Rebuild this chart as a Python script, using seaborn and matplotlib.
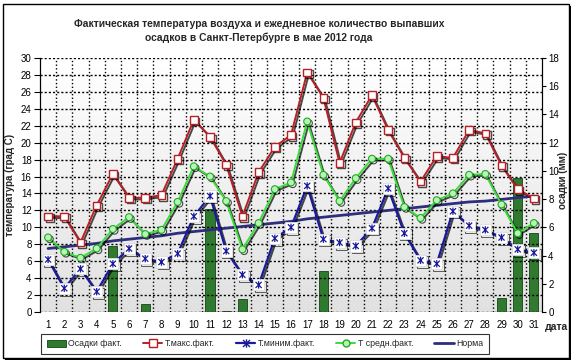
import numpy as np
import pandas as pd
import matplotlib
matplotlib.use("Agg")
import matplotlib.pyplot as plt
import matplotlib.patheffects as pe
from matplotlib import font_manager
from matplotlib.path import Path
from matplotlib.lines import Line2D
from matplotlib.patches import Patch, Rectangle
import seaborn as sns

# --- dades (llegides del gràfic) ---
dies = list(range(1, 32))
t_max = [11.3, 11.3, 8.2, 12.6, 16.3, 13.5, 13.5, 13.8, 18.1, 22.7, 20.7, 17.4, 11.3, 16.5, 19.5, 20.9,
         28.3, 25.3, 17.6, 22.4, 25.6, 21.5, 18.2, 15.4, 18.4, 18.2, 21.5, 21.1, 17.3, 14.5, 13.4]
t_min = [6.2, 2.8, 5.1, 2.4, 5.7, 7.5, 6.3, 5.9, 6.9, 11.3, 13.7, 7.2, 4.4, 3.2, 8.7, 10.0,
         14.9, 8.6, 8.2, 7.8, 9.9, 14.6, 9.3, 6.1, 5.7, 11.9, 10.2, 9.7, 8.8, 7.4, 7.0]
t_mitjana = [8.8, 7.1, 6.4, 7.5, 9.8, 11.2, 9.2, 9.7, 13.0, 17.2, 16.0, 13.1, 7.4, 10.5, 14.5, 15.3,
             22.5, 16.2, 13.1, 15.8, 18.1, 18.1, 12.4, 11.1, 13.2, 14.0, 16.2, 16.3, 12.7, 9.3, 10.5]
norma = [7.5, 7.7, 7.9, 8.1, 8.4, 8.6, 8.8, 9.0, 9.3, 9.5, 9.7, 9.9, 10.1, 10.3, 10.5, 10.7,
         11.0, 11.2, 11.4, 11.6, 11.8, 12.0, 12.2, 12.4, 12.6, 12.8, 13.0, 13.1, 13.3, 13.5, 13.7]
precipitacio = [0, 0, 0, 0, 4.7, 0, 0.6, 0, 0, 0, 7.3, 0.1, 0.9, 0, 0, 0, 0, 2.9, 0, 0, 0, 0, 0, 0, 0,
                0, 0, 0, 1.0, 9.5, 5.6]

df = pd.DataFrame({"dia": dies, "tmax": t_max, "tmin": t_min, "tmit": t_mitjana,
                   "norma": norma, "prec": precipitacio})

sns.set_style("white")
plt.rcParams["font.family"] = ["Liberation Sans", "DejaVu Sans"]
fonts = {f.name for f in font_manager.fontManager.ttflist}
if "Liberation Sans Narrow" in fonts:
    font_titol, mida_titol = ["Liberation Sans Narrow", "DejaVu Sans"], 9
else:
    font_titol, mida_titol = ["Liberation Sans", "DejaVu Sans"], 7.4

C_VERMELL = "#b82025"
C_BLAU = "#1a1a9c"
C_VERD = "#3ddc3d"
C_NORMA = "#2e2e7a"
C_BARRA = "#2f7a2f"
PUNTS = (0, (1.5, 1.5))

fig = plt.figure(figsize=(5.73, 3.62), dpi=100)
posicio = [40 / 573, 50 / 362, 502 / 573, 254 / 362]

# fons degradat en uns eixos propis, al darrere de tot
fons = fig.add_axes(posicio, zorder=-1)
grad = np.linspace(0.88, 1.0, 256).reshape(-1, 1)
fons.imshow(grad, extent=[0, 1, 0, 1], cmap="gray", vmin=0, vmax=1, aspect="auto", origin="lower")
fons.set_axis_off()

ax2 = fig.add_axes(posicio, zorder=0)
ax2.patch.set_visible(False)
ax = ax2.twinx()
ax2.yaxis.tick_right()
ax2.yaxis.set_label_position("right")
ax.yaxis.tick_left()
ax.yaxis.set_label_position("left")
ax.set_zorder(3)
ax.patch.set_visible(False)

# barres de precipitació (eix dret)
sns.barplot(data=df, x="dia", y="prec", native_scale=True, width=0.56, color=C_BARRA,
            saturation=1, edgecolor="#174217", linewidth=0.6, ax=ax2, zorder=2)

ombra = [pe.SimpleLineShadow(offset=(1.2, -1.2), shadow_color="black", alpha=0.7), pe.Normal()]

sns.lineplot(data=df, x="dia", y="norma", color=C_NORMA, lw=2, ax=ax, zorder=3)
sns.lineplot(data=df, x="dia", y="tmax", color=C_VERMELL, lw=1.4, marker="s", markersize=5.5,
             markerfacecolor="white", markeredgecolor=C_VERMELL, markeredgewidth=1, ax=ax, zorder=4,
             path_effects=ombra)
sns.lineplot(data=df, x="dia", y="tmit", color=C_VERD, lw=1.4, marker="o", markersize=5,
             markerfacecolor="#b6f5b6", markeredgecolor="#22a822", markeredgewidth=0.8, ax=ax, zorder=4,
             path_effects=ombra)
sns.lineplot(data=df, x="dia", y="tmin", color=C_BLAU, lw=1.6, marker="s", markersize=8,
             markerfacecolor="white", markeredgecolor="#dddddd", markeredgewidth=0.6, ax=ax, zorder=5,
             path_effects=ombra)

asterisc = Path([(-1, -1), (1, 1), (-1, 1), (1, -1), (0, -1.2), (0, 1.2)],
                [Path.MOVETO, Path.LINETO, Path.MOVETO, Path.LINETO, Path.MOVETO, Path.LINETO])
ax.scatter(df["dia"], df["tmin"], marker=asterisc, s=28, facecolor="none", edgecolor=C_BLAU,
           linewidth=0.9, zorder=6)

# eixos
ax.set_xlim(0.5, 31.5)
ax2.set_xlim(0.5, 31.5)
ax.set_ylim(0, 30)
ax2.set_ylim(0, 18)
ax.set_yticks(range(0, 31, 2))
ax2.set_yticks(range(0, 19, 2))
ax2.set_xticks(dies)
ax2.set_xticklabels([str(d) for d in dies])
for a in (ax, ax2):
    a.set_xlabel("")
    a.tick_params(axis="both", labelsize=7, length=3, width=0.8, colors="black", pad=2)
    a.tick_params(axis="x", which="both", length=0, pad=6)
    for s in ("top", "bottom"):
        a.spines[s].set_visible(False)
    a.spines["left"].set_color("black")
    a.spines["right"].set_color("black")
ax2.tick_params(axis="y", direction="out", length=3, pad=1.5)
ax.tick_params(axis="y", direction="out", length=4)

# quadrícula puntejada
ax2.grid(False)
ax.set_axisbelow(True)
ax.grid(True, axis="y", which="major", color="black", lw=1.0, ls=PUNTS)

ax.set_ylabel("температура (град С)", fontsize=7, fontweight="bold", labelpad=4)
ax2.set_ylabel("")
fig.text(563 / 573, 1 - 180 / 362, "осадки (мм)", rotation=90, fontsize=7, fontweight="bold",
         ha="center", va="center")
fig.text(545 / 573, 1 - 327 / 362, "дата", fontsize=7.5, fontweight="bold", va="center", ha="left")

fig.text(259 / 573, 1 - 31 / 362,
         "Фактическая температура воздуха и ежедневное количество выпавших\nосадков в Санкт-Петербурге в мае 2012 года",
         ha="center", va="center", fontsize=mida_titol, fontweight="bold", linespacing=1.5,
         family=font_titol)

# llegenda
handles = [
    Patch(facecolor=C_BARRA, edgecolor="#174217", linewidth=0.6),
    Line2D([], [], color=C_VERMELL, lw=1.4, marker="s", markersize=5.5, markerfacecolor="white",
           markeredgecolor=C_VERMELL),
    Line2D([], [], color=C_BLAU, lw=1.6, marker=asterisc, markersize=6, markeredgecolor=C_BLAU,
           markerfacecolor="none"),
    Line2D([], [], color=C_VERD, lw=1.4, marker="o", markersize=5, markerfacecolor="#b6f5b6",
           markeredgecolor="#22a822"),
    Line2D([], [], color=C_NORMA, lw=2),
]
labels = ["Осадки факт.", "Т.макс.факт.", "Т.миним.факт.", "Т средн.факт.", "Норма"]
leg = fig.legend(handles, labels, loc="center", bbox_to_anchor=(265 / 573, 1 - 344 / 362), ncol=5,
                 frameon=True, fancybox=False, edgecolor="black", handlelength=2.2,
                 handletextpad=0.3, columnspacing=2.4, borderpad=0.6,
                 prop={"family": font_titol, "size": 6.8 if mida_titol == 9 else 6.3})
leg.get_frame().set_linewidth(0.8)

# quadrícula vertical puntejada entre dies (al final)
for xg in np.arange(1.5, 31, 1):
    ax.axvline(xg, color="black", lw=1.0, ls=":", zorder=2.5)

# marc exterior
fig.patches.append(Rectangle((3 / 573, 4 / 362), 566 / 573, 354 / 362, transform=fig.transFigure,
                             fill=False, edgecolor="black", lw=1.0))
fig.patches.append(Rectangle((5 / 573, 2 / 362), 566 / 573, 2.5 / 362, transform=fig.transFigure,
                             facecolor="black", edgecolor="none"))
fig.patches.append(Rectangle((568.5 / 573, 2 / 362), 2.5 / 573, 354 / 362, transform=fig.transFigure,
                             facecolor="black", edgecolor="none"))

fig.savefig("out.png", dpi=100)
plt.close(fig)
